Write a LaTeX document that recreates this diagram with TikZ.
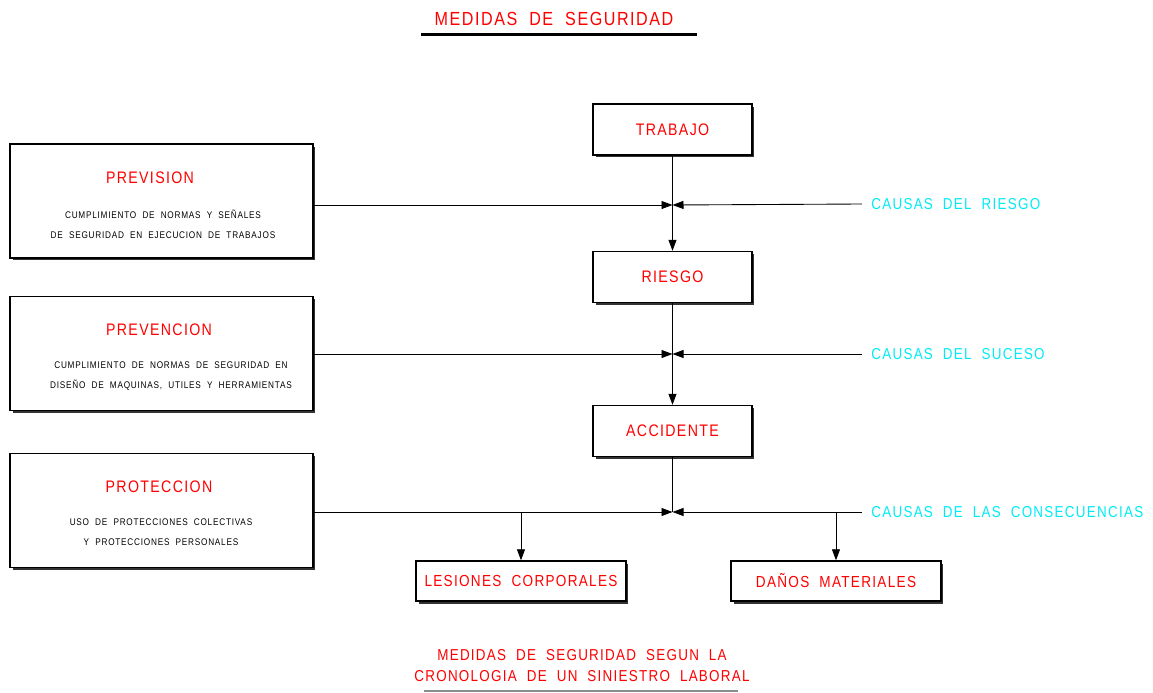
\documentclass[tikz,border=0pt]{standalone}
\usepackage{fontspec}
\setmainfont{Liberation Sans}
\newfontfamily\cadfont[FakeStretch=0.85,LetterSpace=8,WordSpace=2]{Liberation Sans}
\usetikzlibrary{arrows.meta, shadows}
\usepackage{xcolor}
\definecolor{cadred}{RGB}{255,0,0}
\definecolor{cadcyan}{RGB}{0,235,245}

\begin{document}
\begin{tikzpicture}[x=0.02cm,y=-0.02cm]
						\tikzstyle{box} = [rectangle,draw=black,fill=white,line width=0.8pt,inner sep=0pt,drop shadow={shadow xshift=0.05cm,shadow yshift=-0.05cm,fill=black!80,opacity=1}]
						\tikzstyle{stage} = [box,minimum width=3.18cm,minimum height=1.02cm]
						\tikzstyle{measure} = [box,minimum width=6.06cm,minimum height=2.28cm]
						\tikzstyle{result} = [box,minimum width=4.2cm,minimum height=0.8cm]
						\tikzstyle{redtext} = [text=cadred,font=\cadfont\fontsize{9.5}{12}\selectfont]
						\tikzstyle{smalltext} = [text=black,align=center,font=\cadfont\fontsize{5.5}{11.3}\selectfont]
						\tikzstyle{cause} = [anchor=west,inner sep=0pt,inner xsep=0.18cm,text=cadcyan,font=\cadfont\fontsize{9}{11}\selectfont]
						\tikzstyle{line} = [line width=0.5pt]
						\tikzstyle{conn} = [line,-{Triangle[length=0.22cm,width=0.16cm]}]
						\useasboundingbox (0,0) rectangle (1153,693);
						% title
						\node[redtext,font=\cadfont\fontsize{10.8}{13}\selectfont] (title) at (554,19) {MEDIDAS DE SEGURIDAD};
						\draw[line width=1.7pt] (421,34.5) -- (697,34.5);
						% chain of the event
						\node[stage] (trabajo) at (672.5,129.5) {\textcolor{cadred}{\cadfont\fontsize{9.5}{12}\selectfont TRABAJO}};
						\node[stage] (riesgo) at (672.5,277) {\textcolor{cadred}{\cadfont\fontsize{9.5}{12}\selectfont RIESGO}};
						\node[stage] (accidente) at (672.5,431) {\textcolor{cadred}{\cadfont\fontsize{9.5}{12}\selectfont ACCIDENTE}};
						\node[result] (lesiones) at (521,581) {\textcolor{cadred}{\cadfont\fontsize{9.1}{12}\selectfont LESIONES CORPORALES}};
						\node[result] (danos) at (836,581) {\textcolor{cadred}{\cadfont\fontsize{9.1}{12}\selectfont DAÑOS MATERIALES}};
						% measures
						\node[measure] (prevision) at (161.5,201) {};
						\node[redtext] (previsiont) at (150,178) {PREVISION};
						\node[smalltext] (previsionx) at (163,224) {CUMPLIMIENTO DE NORMAS Y SEÑALES\\DE SEGURIDAD EN EJECUCION DE TRABAJOS};
						\node[measure] (prevencion) at (161.5,353.5) {};
						\node[redtext] (prevenciont) at (159,330) {PREVENCION};
						\node[smalltext] (prevencionx) at (171,376) {CUMPLIMIENTO DE NORMAS DE SEGURIDAD EN\\DISEÑO DE MAQUINAS, UTILES Y HERRAMIENTAS};
						\node[measure] (proteccion) at (161.5,510.5) {};
						\node[redtext] (protecciont) at (159,487) {PROTECCION};
						\node[smalltext] (proteccionx) at (161,532.5) {USO DE PROTECCIONES COLECTIVAS\\ Y PROTECCIONES PERSONALES};
						% causes
						\node[cause] (c1) at (862,204) {CAUSAS DEL RIESGO};
						\node[cause] (c2) at (862,354) {CAUSAS DEL SUCESO};
						\node[cause] (c3) at (862,512) {CAUSAS DE LAS CONSECUENCIAS};
						\coordinate (m1) at (672.5,205);
						\coordinate (m2) at (672.5,354);
						\coordinate (m3) at (672.5,512);
						\draw[conn] (trabajo) -- (riesgo);
						\draw[conn] (riesgo) -- (accidente);
						\draw[line] (accidente) -- (m3);
						\draw[conn] (prevision.east |- m1) -- (m1);
						\draw[conn] (c1.west) -- (m1);
						\draw[conn] (prevencion.east |- m2) -- (m2);
						\draw[conn] (c2.west) -- (m2);
						\draw[conn] (proteccion.east |- m3) -- (m3);
						\draw[conn] (c3.west) -- (m3);
						\draw[conn] (lesiones.north |- m3) -- (lesiones.north);
						\draw[conn] (danos.north |- m3) -- (danos.north);
						% caption
						\node[redtext,align=center,font=\cadfont\fontsize{9}{11.9}\selectfont] (caption) at (582,666) {MEDIDAS DE SEGURIDAD SEGUN LA\\ CRONOLOGIA DE UN SINIESTRO LABORAL};
						\draw[line width=0.6pt,black!45] (424,691) -- (738,691);
						\end{tikzpicture}
\end{document}
